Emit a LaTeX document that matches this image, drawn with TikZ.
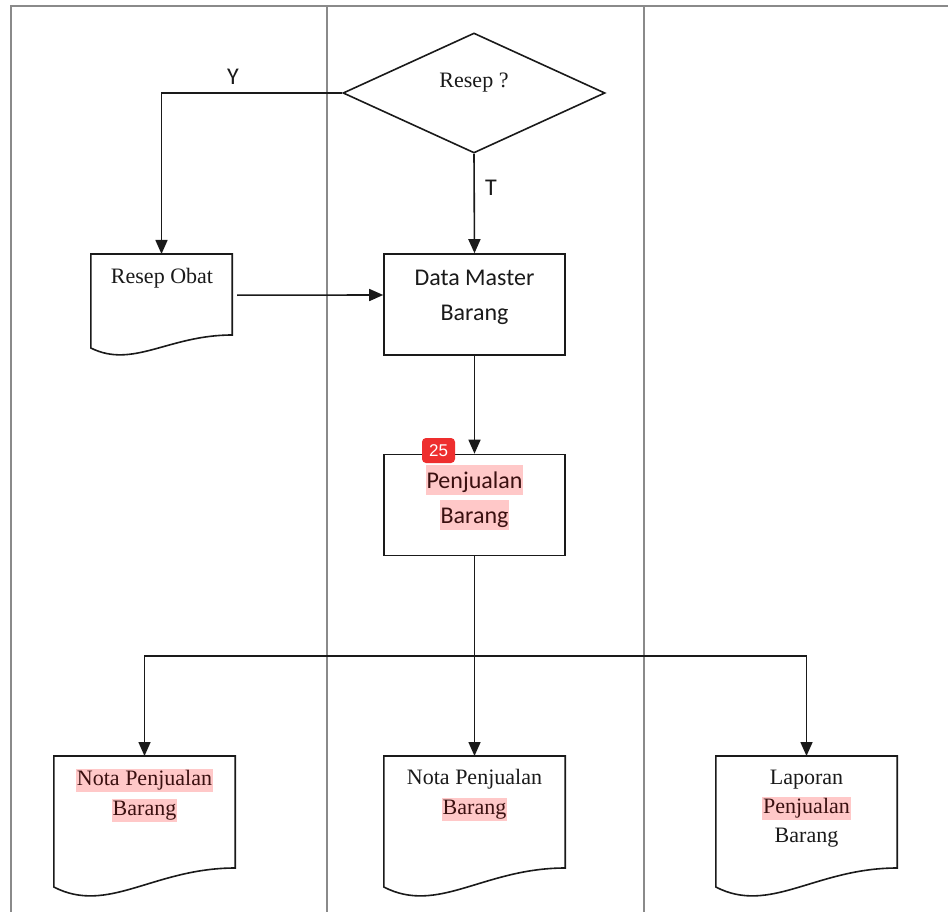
\documentclass[tikz,border=0pt]{standalone}
\usepackage{fontspec}
\setmainfont{Liberation Serif}
\newfontfamily\carlito{Carlito}
\newfontfamily\arialf{Liberation Sans}
\usetikzlibrary{shapes.geometric,arrows.meta,calc}
\definecolor{lanegray}{HTML}{8A8A8A}
\definecolor{ink}{HTML}{1A1A1A}
\definecolor{hlpink}{HTML}{FFC8C8}
\definecolor{hltext}{HTML}{3A1010}
\definecolor{badgered}{HTML}{EE2E2E}
\newcommand{\hlser}[1]{{\setlength{\fboxsep}{0pt}\colorbox{hlpink}{\rule[-6pt]{0pt}{23pt}\hspace{1pt}\textcolor{hltext}{#1}\hspace{1pt}}}}
\newcommand{\hlsan}[1]{{\setlength{\fboxsep}{0pt}\colorbox{hlpink}{\rule[-7pt]{0pt}{30pt}\hspace{1pt}\textcolor{hltext}{#1}\hspace{1pt}}}}
\newcommand{\docoutline}[5]{%
  \draw[ln, fill=white] (#1.north west) -- (#1.north east) -- ($(#1.north east)+(0,#4)$)
    .. controls ($(#1.north west)+(0.55*#2,#4)$) and ($(#1.north west)+(0.3*#2,#5)$) ..
    ($(#1.north west)+(0,#3)$) -- cycle;}
\tikzset{
  lane/.style={draw=lanegray, line width=2pt},
  ln/.style={draw=ink, line width=1.6pt},
  arr/.style={ln, -{Triangle[length=14pt,width=12pt]}},
  boxst/.style={rectangle, ln, fill=white, minimum width=181pt, minimum height=101pt, inner sep=0pt},
  docst/.style={rectangle, draw=none, inner sep=0pt, anchor=north},
  sertext/.style={font=\fontsize{22}{30}\selectfont, align=center, inner sep=0pt, text=ink},
  santext/.style={font=\carlito\fontsize{24}{35}\selectfont, align=center, inner sep=0pt, text=ink},
  labst/.style={font=\carlito\fontsize{24}{28}\selectfont, inner sep=0pt, text=ink},
  badge/.style={rectangle, rounded corners=4pt, fill=badgered, text=white, minimum width=33pt, minimum height=25pt, inner sep=0pt, font=\arialf\fontsize{17}{20}\selectfont}
}
\begin{document}
\begin{tikzpicture}[x=1pt, y=-1pt]
\useasboundingbox (0,0) rectangle (948,912);
\fill[white] (0,0) rectangle (948,912);
% swimlane frame
\draw[lane] (10,6.5) -- (948,6.5);
\draw[lane] (11,5.5) -- (11,912);
\draw[lane] (327,6.5) -- (327,912);
\draw[lane] (644,6.5) -- (644,912);

% decision
\node[diamond, ln, fill=white, minimum width=262pt, minimum height=120pt, inner sep=0pt] (dec) at (474,93) {};
\node[sertext] (dect) at (474,83) {Resep ?};

% process boxes
\node[boxst] (dm) at (474.5,304.5) {};
\node[santext] (dmt) at (474.5,297) {Data Master\\Barang};
\node[boxst] (pb) at (474.5,505) {};
\node[santext] (pbt) at (474.5,497.5) {\hlsan{Penjualan}\\\hlsan{Barang}};

% documents
\node[docst, minimum width=141pt, minimum height=101pt] (ro) at (161.5,254) {};
\docoutline{ro}{141}{94}{81}{115}
\node[sertext] (rot) at (162,278) {Resep Obat};

\node[docst, minimum width=181pt, minimum height=140pt] (d1) at (144.5,756) {};
\docoutline{d1}{181}{131}{112}{159}
\node[sertext] (d1t) at (144.5,795) {\hlser{Nota Penjualan}\\\hlser{Barang}};

\node[docst, minimum width=181pt, minimum height=140pt] (d2) at (474.5,756) {};
\docoutline{d2}{181}{131}{112}{159}
\node[sertext] (d2t) at (474.5,795) {Nota Penjualan\\\hlser{Barang}};

\node[docst, minimum width=181pt, minimum height=140pt] (d3) at (806.5,756) {};
\docoutline{d3}{181}{131}{112}{159}
\node[sertext, font=\fontsize{22}{29}\selectfont] (d3t) at (806.5,809) {Laporan\\\hlser{Penjualan}\\Barang};

% connectors
\draw[arr] (dec.west) -| (ro.north);
\node[labst] (ylab) at (233,77) {Y};
\draw[arr] (dec.south) -- (dm.north);
\node[labst] (tlab) at (491,188) {T};
\draw[arr] ([xshift=5pt,yshift=9.5pt]ro.east) -- ([yshift=9.5pt]dm.west);
\draw[arr] (dm.south) -- (pb.north);
\coordinate (j) at (474.5,656);
\draw[ln] (pb.south) -- (j);
\draw[arr] (j) -| (d1.north);
\draw[arr] (j) -- (d2.north);
\draw[arr] (j) -| (d3.north);

% badge
\node[badge] (bdg) at (438.5,450.5) {25};
\end{tikzpicture}
\end{document}
